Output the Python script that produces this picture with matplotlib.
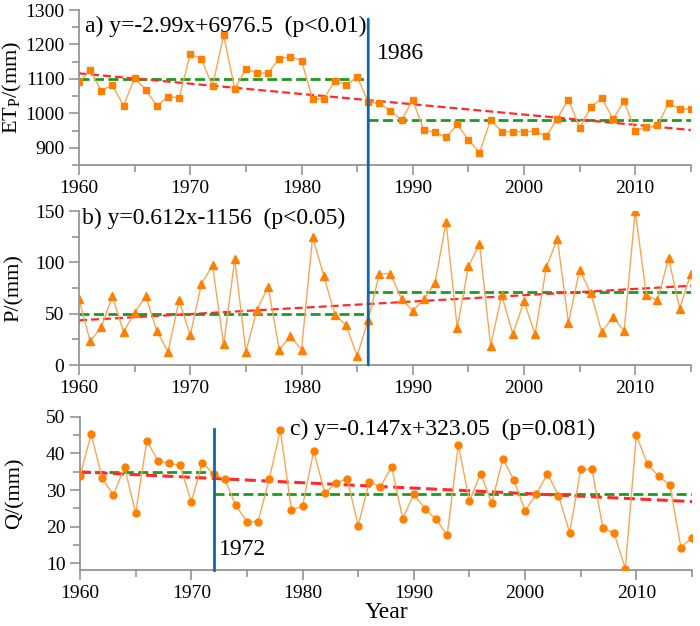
import matplotlib
matplotlib.use('Agg')
import matplotlib.pyplot as plt
from matplotlib.patches import ConnectionPatch
from matplotlib.ticker import MultipleLocator

plt.rcParams['font.family'] = ['Liberation Serif', 'DejaVu Serif']
plt.rcParams['mathtext.fontset'] = 'custom'
plt.rcParams['mathtext.rm'] = 'Liberation Serif'

years = list(range(1960, 2016))

# potential evapotranspiration (mm)
etp = [1090, 1126, 1066, 1082, 1022, 1103, 1068, 1022, 1048, 1046,
       1172, 1158, 1079, 1227, 1071, 1129, 1117, 1117, 1159, 1164,
       1153, 1041, 1042, 1095, 1082, 1106, 1032, 1029, 1008, 980,
       1038, 951, 945, 930, 968, 924, 886, 980, 947, 947,
       947, 948, 933, 985, 1040, 958, 1017, 1044, 984, 1035,
       950, 959, 965, 1030, 1012, 1014]

# precipitation (mm)
precip = [64, 23, 37, 67, 32, 51, 67, 33, 13, 63,
          29, 79, 97, 20, 103, 13, 54, 76, 15, 28,
          15, 125, 87, 49, 39, 9, 44, 89, 89, 64,
          53, 64, 80, 139, 36, 96, 118, 19, 68, 30,
          62, 30, 95, 123, 41, 93, 70, 32, 47, 33,
          150, 68, 63, 104, 55, 89]

# runoff (mm)
runoff = [33.8, 45.2, 33.2, 28.6, 36.3, 23.6, 43.4, 38.0, 37.3, 36.7,
          26.8, 37.5, 34.3, 33.0, 25.8, 21.4, 21.4, 32.9, 46.3, 24.6,
          25.6, 40.6, 29.2, 31.9, 33.1, 20.3, 32.3, 30.9, 36.4, 22.2,
          28.9, 24.9, 22.0, 17.7, 42.3, 27.0, 34.5, 26.5, 38.5, 32.7,
          24.4, 28.8, 34.4, 28.5, 18.4, 35.6, 35.6, 19.7, 18.2, 8.6,
          44.9, 37.0, 33.8, 31.4, 14.3, 17.0]

# change points and segment means
etp_break = 1986
etp_means = [1100, 980]
precip_break = 1986
precip_means = [49.4, 70.8]
runoff_break = 1972
runoff_means = [35.0, 28.9]

# linear trends (slope, intercept) as printed on the chart
etp_trend = [-2.99, 6976.5]
precip_trend = [0.612, -1156]
runoff_trend = [-0.147, 323.05]

line_col = '#F7A654'
mark_col = '#FF8000'
green = '#1E9A1E'
red = '#FF2A2A'
blue = '#1464AA'
spine_col = '#8C8C8C'

fig = plt.figure(figsize=(7, 6.26), dpi=100)
ax_a = fig.add_axes([0.1129, 0.7364, 0.874, 0.2476])
ax_b = fig.add_axes([0.1129, 0.4169, 0.874, 0.246])
ax_c = fig.add_axes([0.1143, 0.0895, 0.8743, 0.2449])


def style(ax, ylim, major, minor):
    ax.set_xlim(1960, 2015)
    ax.set_ylim(*ylim)
    for s in ['top', 'right']:
        ax.spines[s].set_visible(False)
    for s in ['left', 'bottom']:
        ax.spines[s].set_color(spine_col)
        ax.spines[s].set_linewidth(1.2)
    ax.xaxis.set_major_locator(MultipleLocator(10))
    ax.xaxis.set_minor_locator(MultipleLocator(5))
    ax.yaxis.set_major_locator(MultipleLocator(major))
    ax.yaxis.set_minor_locator(MultipleLocator(minor))
    ax.tick_params(which='both', direction='out', color=spine_col, width=1.1, labelsize=14)
    ax.tick_params(which='major', length=7)
    ax.tick_params(which='minor', length=5)
    ax.patch.set_alpha(0)


def draw(ax, vals, marker, ms, brk, means, trend, red_lw=1.6):
    ax.plot(years, vals, '-', color=line_col, lw=1, zorder=3)
    ax.plot(years, vals, marker, color=mark_col, ms=ms, lw=0, zorder=4)
    ax.plot([1960, brk], [means[0], means[0]], '--', color=green, lw=2, dashes=(3.6, 1.6), zorder=2)
    ax.plot([brk, 2015], [means[1], means[1]], '--', color=green, lw=2, dashes=(3.6, 1.6), zorder=2)
    x0, x1 = 1960, 2015
    ax.plot([x0, x1], [trend[0] * x0 + trend[1], trend[0] * x1 + trend[1]], '--',
            color=red, lw=red_lw, dashes=(3.6, 1.8), zorder=2)


draw(ax_a, etp, 's', 5, etp_break, etp_means, etp_trend)
style(ax_a, (850, 1300), 100, 50)
ax_a.set_ylabel(r'ET$_\mathrm{P}$/(mm)', fontsize=16)
ax_a.text(1960.5, 1252, 'a) y=-2.99x+6976.5  (p<0.01)', fontsize=17, va='center')
ax_a.text(1986.8, 1175, '1986', fontsize=17, va='center')

draw(ax_b, precip, '^', 6, precip_break, precip_means, precip_trend)
style(ax_b, (0, 150), 50, 25)
ax_b.set_ylabel('P/(mm)', fontsize=16)
ax_b.text(1960.3, 143, 'b) y=0.612x-1156  (p<0.05)', fontsize=17, va='center')

draw(ax_c, runoff, 'o', 5, runoff_break, runoff_means, runoff_trend, red_lw=2.2)
style(ax_c, (8.2, 50), 10, 5)
ax_c.set_ylabel('Q/(mm)', fontsize=16)
ax_c.set_xlabel('Year', fontsize=17, labelpad=0)
ax_c.text(1978.9, 46.4, 'c) y=-0.147x+323.05  (p=0.081)', fontsize=17, va='center')
ax_c.text(1972.5, 13.8, '1972', fontsize=17, va='center')

for ax in (ax_a, ax_b, ax_c):
    ax.yaxis.set_label_coords(-0.09, 0.5)

# change point lines
ax_c.plot([runoff_break, runoff_break], [46.7, 8.2], color=blue, lw=2, zorder=5, clip_on=False)
con = ConnectionPatch(xyA=(etp_break, 1274), coordsA=ax_a.transData,
                      xyB=(precip_break, 0), coordsB=ax_b.transData,
                      color=blue, lw=2, zorder=10)
fig.add_artist(con)

fig.savefig('out.png', dpi=100)
